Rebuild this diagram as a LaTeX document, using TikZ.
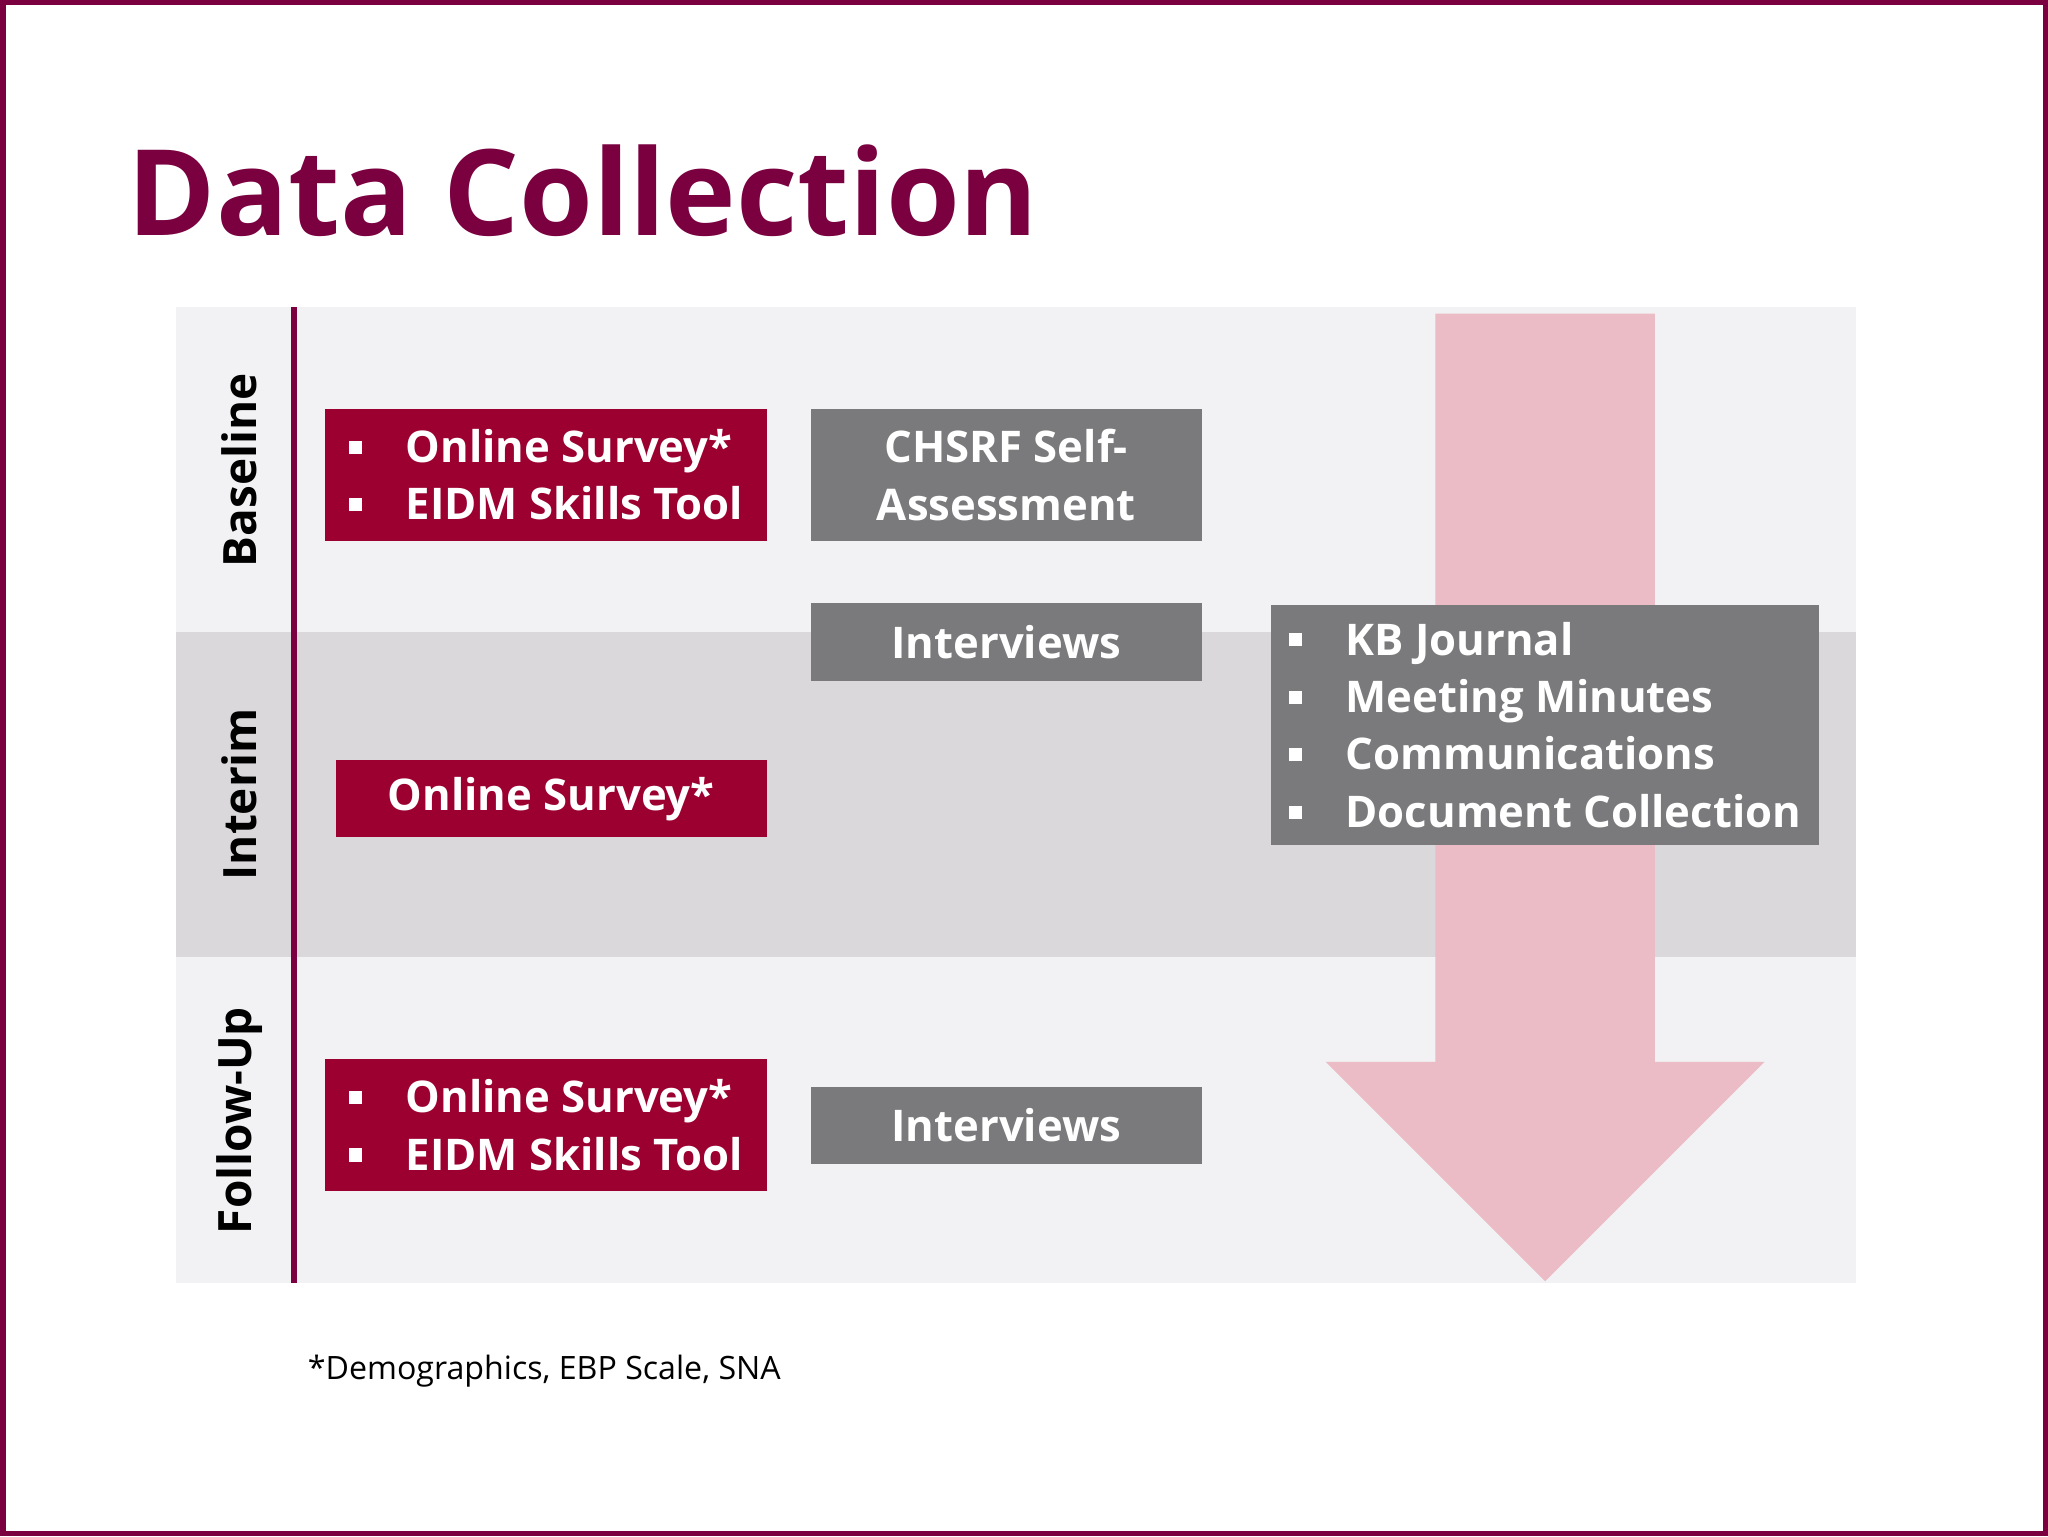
\documentclass[tikz,border=0pt]{standalone}
\usepackage{fontspec}
\setmainfont{Open Sans}
\usetikzlibrary{positioning,calc}
\definecolor{maroon}{HTML}{7A0040}
\definecolor{boxred}{HTML}{9C0031}
\definecolor{boxgray}{HTML}{7A797B}
\definecolor{bandlight}{HTML}{F2F1F3}
\definecolor{banddark}{HTML}{DAD8DB}
\definecolor{arrowpink}{HTML}{EBBCC5}
\newcommand{\sqb}{\rule[0.2em]{0.3em}{0.3em}\hspace{1em}}
\begin{document}
\begin{tikzpicture}[x=0.01cm,y=-0.01cm,
redbox/.style={fill=boxred,draw=none,text=white,font=\bfseries\fontsize{9.5}{11.5}\selectfont,inner sep=0pt},
graybox/.style={fill=boxgray,draw=none,text=white,font=\bfseries\fontsize{9.5}{11.5}\selectfont,inner sep=0pt},
phase/.style={rotate=90,font=\bfseries\fontsize{10}{12}\selectfont}]

% frame
\fill[white] (0,0) rectangle (1568,1176);
\draw[maroon,line width=1.2pt] (2,2) rectangle (1566,1174);

% title
\node[anchor=base west,text=maroon,font=\bfseries\fontsize{26}{30}\selectfont,inner sep=0pt] (title) at (97,180) {Data Collection};

% bands
\fill[bandlight] (135,235) rectangle (1421,484);
\fill[banddark] (135,484) rectangle (1421,733);
\fill[bandlight] (135,733) rectangle (1421,982);
\draw[maroon,line width=1.4pt] (225,235) -- (225,982);

% phases
\node[phase] (base) at (183,360) {Baseline};
\node[phase] (inter) at (183,608) {Interim};
\node[phase] (follow) at (183,858) {Follow-Up};

% arrow
\fill[arrowpink] (1099,240) -- (1267,240) -- (1267,813) -- (1351,813) -- (1183,981)
  -- (1015,813) -- (1099,813) -- cycle;

% boxes
\node[redbox,minimum width=3.38cm,minimum height=1.01cm,align=left] (s1) at (418,363.5)
  {\sqb Online Survey*\\[1pt]\sqb EIDM Skills Tool};
\node[redbox,minimum width=3.30cm,minimum height=0.59cm] (s2) at (422,611.5) {Online Survey*};
\node[redbox,minimum width=3.38cm,minimum height=1.01cm,align=left] (s3) at (418,861.5)
  {\sqb Online Survey*\\[1pt]\sqb EIDM Skills Tool};
\node[graybox,minimum width=2.99cm,minimum height=1.01cm,align=center] (chsrf) at (770.5,363.5)
  {CHSRF Self-\\[1pt]Assessment};
\node[graybox,minimum width=2.99cm,minimum height=0.59cm] (int1) at (770.5,491.5) {Interviews};
\node[graybox,minimum width=2.99cm,minimum height=0.59cm] (int2) at (770.5,861.5) {Interviews};
\node[graybox,minimum width=4.20cm,minimum height=1.84cm,align=left] (docs) at (1183,555)
  {\sqb KB Journal\\[1pt]\sqb Meeting Minutes\\[1pt]\sqb Communications\\[1pt]\sqb Document Collection};

% footnote
\node[anchor=base west,font=\fontsize{7}{9}\selectfont,inner sep=0pt] (note) at (235,1056) {*Demographics, EBP Scale, SNA};
\end{tikzpicture}
\end{document}
